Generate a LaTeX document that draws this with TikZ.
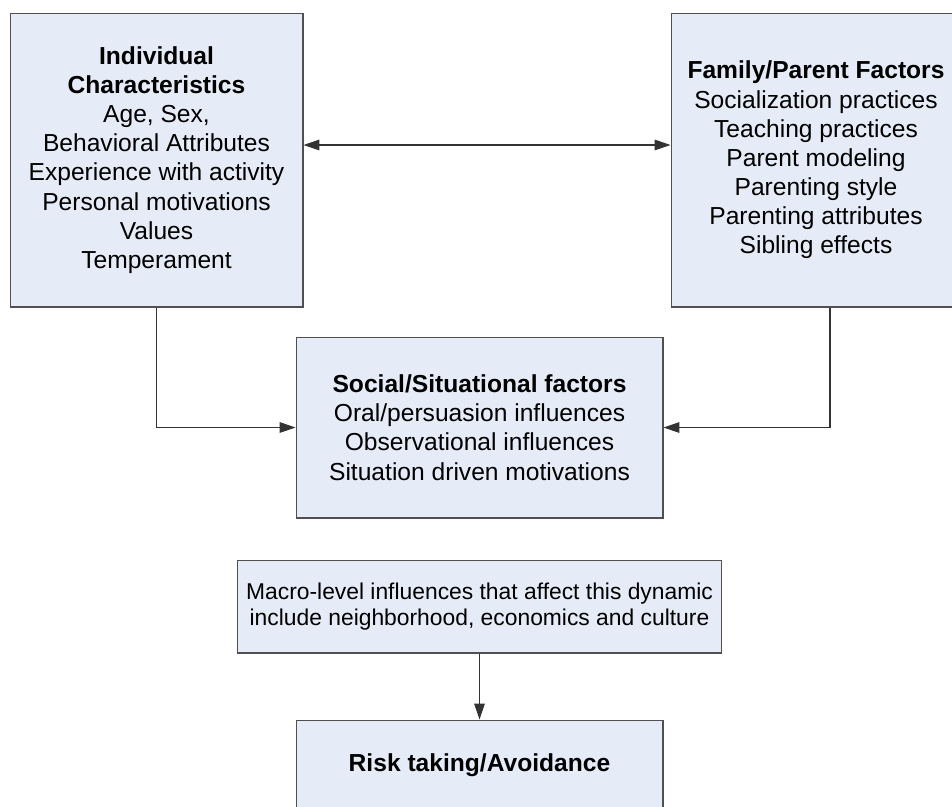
\documentclass[tikz,border=0pt]{standalone}
\usepackage{fontspec}
\setmainfont{Liberation Sans}
\usetikzlibrary{arrows.meta}
\definecolor{boxfill}{HTML}{E6ECF7}
\definecolor{boxline}{HTML}{505050}

\begin{document}
\begin{tikzpicture}[x=0.02cm,y=-0.02cm,>={Triangle[length=9pt,width=6pt]},
  box/.style={draw=boxline,fill=boxfill,line width=0.6pt,align=center,
    inner sep=0pt,font=\fontsize{14}{16.6}\selectfont},
  link/.style={draw=black!80,line width=0.6pt}]
  \useasboundingbox (0,0) rectangle (952,806);
  \clip (0,0) rectangle (952,806);
  % top row
  \node[box,minimum width=5.86cm,minimum height=5.88cm] (indiv) at (156.5,160)
    {\textbf{Individual}\\\textbf{Characteristics}\\Age, Sex,\\Behavioral Attributes\\
     Experience with activity\\Personal motivations\\Values\\Temperament};
  \node[box,minimum width=5.8cm,minimum height=5.88cm] (family) at (816,160)
    {\textbf{Family/Parent Factors}\\Socialization practices\\Teaching practices\\
     Parent modeling\\Parenting style\\Parenting attributes\\Sibling effects};
  % middle column
  \node[box,minimum width=7.34cm,minimum height=3.62cm] (social) at (479.5,427.5)
    {\textbf{Social/Situational factors}\\Oral/persuasion influences\\
     Observational influences\\Situation driven motivations};
  \node[box,minimum width=9.7cm,minimum height=1.86cm,
    font=\fontsize{13}{15.1}\selectfont] (macro) at (479.5,606.5)
    {Macro-level influences that affect this dynamic\\
     include neighborhood, economics and culture};
  \node[box,minimum width=7.34cm,minimum height=1.8cm] (risk) at (479.5,765)
    {\textbf{Risk taking/Avoidance}};
  % connectors
  \coordinate (across) at (0,145);
  \coordinate (fdrop) at (830,0);
  \draw[link,<->] (indiv.east |- across) -- (family.west |- across);
  \draw[link,->] (indiv.south) |- (social.west);
  \draw[link,->] (family.south -| fdrop) |- (social.east);
  \draw[link,->] (macro.south) -- (risk.north);
\end{tikzpicture}
\end{document}
